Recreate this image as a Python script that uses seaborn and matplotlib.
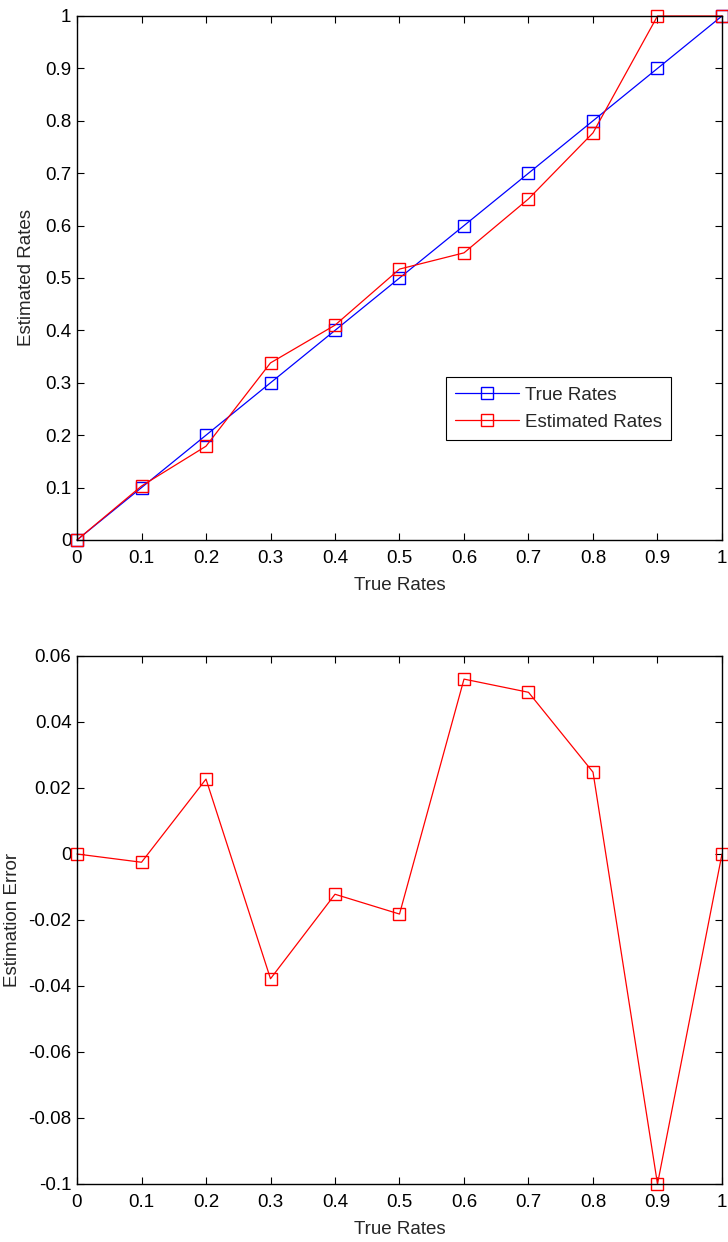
import numpy as np
import pandas as pd
import seaborn as sns
import matplotlib
matplotlib.use("Agg")
import matplotlib.pyplot as plt

# ---- data ----
true_rates = [0.0, 0.1, 0.2, 0.3, 0.4, 0.5, 0.6, 0.7, 0.8, 0.9, 1.0]
estimated_rates = [0.0, 0.103, 0.179, 0.338, 0.410, 0.517, 0.548, 0.651, 0.777, 1.0, 1.0]
estimation_error = [0.0, -0.0025, 0.0227, -0.0378, -0.0122, -0.0182, 0.0530, 0.0490, 0.0248, -0.1, 0.0]
x_ticks = [0, 0.1, 0.2, 0.3, 0.4, 0.5, 0.6, 0.7, 0.8, 0.9, 1]
y_ticks_top = [0, 0.1, 0.2, 0.3, 0.4, 0.5, 0.6, 0.7, 0.8, 0.9, 1]
y_ticks_bottom = [-0.1, -0.08, -0.06, -0.04, -0.02, 0, 0.02, 0.04, 0.06]

def fmt(v):
    s = ("%.2f" % v).rstrip("0").rstrip(".")
    if s == "-0":
        s = "0"
    return s

sns.set_theme(style="ticks")
plt.rcParams["font.family"] = ["Liberation Sans", "DejaVu Sans"]
FS = 13.5

fig = plt.figure(figsize=(7.28, 12.42), dpi=100)
W, H = 728, 1242
ax1 = fig.add_axes([77 / W, 1 - 540 / H, 645 / W, 524 / H])
ax2 = fig.add_axes([77 / W, 1 - 1184 / H, 645 / W, 528 / H])

df = pd.DataFrame({"true": true_rates, "est": estimated_rates, "err": estimation_error})

common = dict(marker="s", markersize=9, markerfacecolor="none", linewidth=0.9,
              markeredgewidth=1.0, clip_on=False)
sns.lineplot(data=df, x="true", y="true", ax=ax1, color="#0000ff",
             markeredgecolor="#0000ff", label="True Rates", **common)
sns.lineplot(data=df, x="true", y="est", ax=ax1, color="#ff0000",
             markeredgecolor="#ff0000", label="Estimated Rates", **common)
sns.lineplot(data=df, x="true", y="err", ax=ax2, color="#ff0000",
             markeredgecolor="#ff0000", legend=False, **common)

for ax, yt, ylim in [(ax1, y_ticks_top, (0, 1)), (ax2, y_ticks_bottom, (-0.1, 0.06))]:
    ax.set_xlim(0, 1)
    ax.set_ylim(*ylim)
    ax.set_xticks(x_ticks)
    ax.set_xticklabels([fmt(v) for v in x_ticks])
    ax.set_yticks(yt)
    ax.set_yticklabels([fmt(v) for v in yt])
    ax.tick_params(direction="in", length=5, width=0.8, top=True, right=True,
                   labelsize=FS, colors="black")
    ax.tick_params(axis="x", pad=7.5)
    ax.tick_params(axis="y", pad=4)
    for sp in ax.spines.values():
        sp.set_visible(True)
        sp.set_color("black")
        sp.set_linewidth(1.0)
    ax.set_xlabel("True Rates", fontsize=FS, labelpad=7)

ax1.set_ylabel("Estimated Rates", fontsize=FS, labelpad=7)
ax2.set_ylabel("Estimation Error", fontsize=FS, labelpad=5)

leg = ax1.legend(loc="upper left", bbox_to_anchor=(0.572, 0.311), frameon=True,
                 fancybox=False, framealpha=1, edgecolor="black", fontsize=FS,
                 handlelength=3.4, borderpad=0.5, labelspacing=0.55, handletextpad=0.3,
                 borderaxespad=0)
leg.get_frame().set_linewidth(0.8)

fig.savefig("out.png", dpi=100)
